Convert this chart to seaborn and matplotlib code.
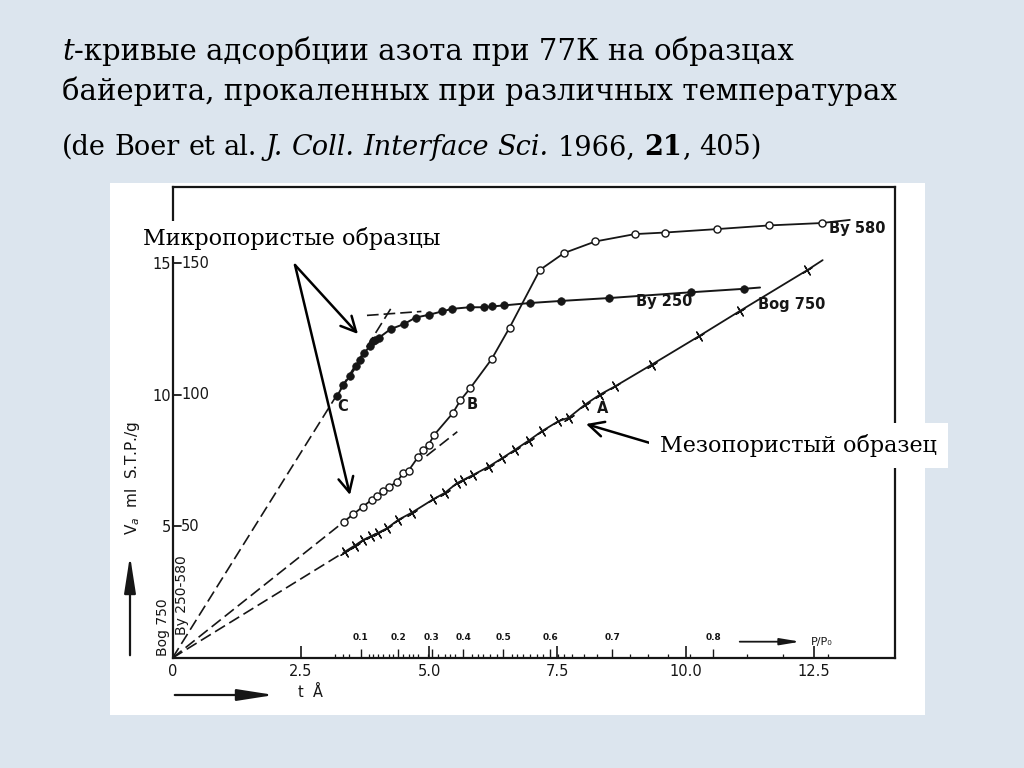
import matplotlib
matplotlib.use("Agg")
from matplotlib import pyplot as plt
from matplotlib.patches import Rectangle
import seaborn as sns

####### DATA #######
# t in Angstrom, Va on the left scale (x10 for the By samples)
by250_t = [3.21, 3.33, 3.45, 3.58, 3.65, 3.73, 3.85, 3.91, 3.95, 4.03, 4.25, 4.51, 4.74,
           4.99, 5.25, 5.45, 5.79, 6.07, 6.23, 6.46, 6.96, 7.57, 8.51, 10.11, 11.13]
by250_v = [9.96, 10.38, 10.70, 11.08, 11.33, 11.59, 11.85, 12.03, 12.10, 12.18, 12.50, 12.69, 12.94,
           13.04, 13.17, 13.27, 13.33, 13.33, 13.36, 13.40, 13.49, 13.57, 13.68, 13.90, 14.03]
by250_end = (11.45, 14.08)

by580_t = [3.34, 3.52, 3.71, 3.88, 3.99, 4.11, 4.22, 4.37, 4.50, 4.60, 4.79, 4.89, 4.99,
           5.10, 5.46, 5.61, 5.80, 6.22, 6.57, 7.16, 7.63, 8.24, 9.01, 9.60, 10.61, 11.63, 12.65]
by580_v = [5.18, 5.46, 5.75, 6.01, 6.17, 6.36, 6.49, 6.70, 7.02, 7.12, 7.65, 7.91, 8.10,
           8.48, 9.30, 9.79, 10.25, 11.36, 12.56, 14.75, 15.39, 15.83, 16.11, 16.17, 16.30, 16.44, 16.53]
by580_end = (13.2, 16.65)

bog750_t = [3.36, 3.55, 3.72, 3.87, 4.01, 4.18, 4.40, 4.66, 5.08, 5.31, 5.54, 5.67, 5.86, 6.16,
            6.42, 6.68, 6.94, 7.20, 7.52, 7.72, 8.04, 8.33, 8.63, 9.34, 10.26, 11.05, 12.37]
bog750_v = [4.04, 4.27, 4.49, 4.63, 4.76, 4.93, 5.25, 5.52, 6.03, 6.28, 6.64, 6.77, 6.96, 7.27,
            7.59, 7.92, 8.26, 8.62, 9.00, 9.13, 9.63, 10.01, 10.33, 11.15, 12.23, 13.18, 14.74]
bog750_end = (12.67, 15.12)

# dashed construction lines: (t0, v0, t1, v1)
dashed_lines = [(0, 0, 4.3, 13.42), (3.79, 13.02, 4.85, 13.17),
                (0, 0, 3.34, 5.18), (4.95, 7.68, 5.55, 8.60),
                (0, 0, 3.36, 4.04)]

t_ticks = [0, 2.5, 5.0, 7.5, 10.0, 12.5]
t_labels = ['0', '2.5', '5.0', '7.5', '10.0', '12.5']
v_ticks = [5, 10, 15]
v_labels_left = ['5', '10', '15']
v_labels_right = ['50', '100', '150']

pp0_major = [3.67, 4.40, 5.05, 5.67, 6.45, 7.36, 8.57, 10.54]
pp0_labels = ['0.1', '0.2', '0.3', '0.4', '0.5', '0.6', '0.7', '0.8']
pp0_minor = [3.17, 3.33, 3.43, 3.82, 3.91, 4.01, 4.11, 4.21, 4.30, 4.50, 4.60, 4.69, 4.79,
             4.98, 5.18, 5.31, 5.41, 5.50, 5.83, 5.96, 6.06, 6.19, 6.32, 6.61, 6.71, 6.84,
             6.97, 7.10, 7.23, 7.52, 7.62, 7.78, 8.01, 8.27, 8.92, 9.27, 9.66, 10.09, 11.19,
             11.90, 12.78]

title_1 = [('t', 'italic', 'normal'), ('-кривые адсорбции азота при 77К на образцах', 'normal', 'normal')]
title_2 = [('байерита, прокаленных при различных температурах', 'normal', 'normal')]
title_3 = [('(de', 'normal', 'normal'), (' ', None, None), ('Boer', 'normal', 'normal'), (' ', None, None),
           ('et', 'normal', 'normal'), (' ', None, None), ('al.', 'normal', 'normal'), (' ', None, None),
           ('J.', 'italic', 'normal'), (' ', None, None), ('Coll.', 'italic', 'normal'), (' ', None, None),
           ('Interface', 'italic', 'normal'), (' ', None, None), ('Sci.', 'italic', 'normal'),
           (' ', None, None), ('1966,', 'normal', 'normal'), (' ', None, None), ('21', 'normal', 'bold'),
           (',', 'normal', 'normal'), (' ', None, None), ('405)', 'normal', 'normal')]
##### END DATA #####

sns.set_theme(style="white")
plt.rcParams['font.family'] = ['DejaVu Sans']

BG = '#dce5ee'
INK = '#161616'
W, H = 1024, 768
serif = ['DejaVu Serif']


def fx(x):
    return x / W


def fy(y):
    return 1 - y / H


fig = plt.figure(figsize=(10.24, 7.68), dpi=100, facecolor=BG)
renderer = fig.canvas.get_renderer()


def draw_runs(x, y, runs, size):
    # place text pieces with different styles one after another
    probe = fig.text(0, 0, 'a a', family=serif, fontsize=size)
    w_sp = probe.get_window_extent(renderer).width
    probe.set_text('aa')
    w_sp -= probe.get_window_extent(renderer).width
    probe.remove()
    px = x
    for txt, style, weight in runs:
        if style is None:
            px += w_sp
            continue
        t = fig.text(fx(px), fy(y), txt, family=serif, fontsize=size, style=style,
                     weight=weight, color='black', va='baseline')
        px += t.get_window_extent(renderer).width


fig.add_artist(Rectangle((fx(110), fy(715)), 815 / W, 532 / H, transform=fig.transFigure,
                         facecolor='white', edgecolor='none', zorder=-1))

ax = fig.add_axes([fx(172.5), fy(658), (895 - 172.5) / W, (658 - 187) / H])
ax.set_facecolor('white')
ax.set_xlim(0, 14.08)
ax.set_ylim(0, 17.9)
for s in ax.spines.values():
    s.set_color(INK)
    s.set_linewidth(1.6)

dash = (0, (7, 3))
for t0, v0, t1, v1 in dashed_lines:
    sns.lineplot(x=[t0, t1], y=[v0, v1], ax=ax, color=INK, lw=1.2, linestyle=dash,
                 sort=False, estimator=None)

sns.lineplot(x=by250_t + [by250_end[0]], y=by250_v + [by250_end[1]], ax=ax, color=INK, lw=1.4,
             sort=False, estimator=None)
sns.lineplot(x=by580_t + [by580_end[0]], y=by580_v + [by580_end[1]], ax=ax, color=INK, lw=1.3,
             sort=False, estimator=None)
sns.lineplot(x=bog750_t + [bog750_end[0]], y=bog750_v + [bog750_end[1]], ax=ax, color=INK, lw=1.3,
             sort=False, estimator=None)

sns.scatterplot(x=by250_t, y=by250_v, ax=ax, marker='o', s=30, color=INK, edgecolor=INK,
                linewidth=0.5, zorder=4)
sns.scatterplot(x=by580_t, y=by580_v, ax=ax, marker='o', s=26, color='white', edgecolor=INK,
                linewidth=1.0, zorder=4)
sns.scatterplot(x=bog750_t, y=bog750_v, ax=ax, marker=(4, 2, 31.6), s=55, color=INK,
                edgecolor=INK, linewidth=1.0, zorder=4)

# curve labels
lab = dict(color=INK, fontsize=10.5, fontweight='bold')
ax.text(3.32, 9.54, 'C', ha='center', va='center', **lab)
ax.text(5.84, 9.62, 'B', ha='center', va='center', **lab)
ax.text(8.39, 9.50, 'A', ha='center', va='center', **lab)
ax.text(12.8, 16.31, 'By 580', ha='left', va='center', **lab)
ax.text(9.03, 13.54, 'By 250', ha='left', va='center', **lab)
ax.text(11.41, 13.42, 'Bog 750', ha='left', va='center', **lab)

# axes ticks
ax.set_xticks(t_ticks)
ax.set_xticklabels(t_labels)
ax.set_yticks(v_ticks)
ax.set_yticklabels(v_labels_left)
ax.tick_params(axis='x', direction='in', length=9, width=1.2, color=INK, pad=4,
               labelsize=10.5, labelcolor=INK, bottom=True)
ax.tick_params(axis='y', direction='out', length=0, pad=1, labelsize=10.5, labelcolor=INK, left=True)
for v, txt in zip(v_ticks, v_labels_right):
    ax.plot([0, 0.17], [v, v], color=INK, lw=1.3, clip_on=False)
    ax.text(0.17, v, txt, ha='left', va='center', fontsize=10.5, color=INK)
ax.grid(False)

# P/Po scale along the t axis
ax.vlines(pp0_major, 0, 0.35, color=INK, lw=1.0)
ax.vlines(pp0_minor, 0, 0.17, color=INK, lw=0.9)
for t, txt in zip(pp0_major, pp0_labels):
    ax.text(t, 0.62, txt, ha='center', va='bottom', fontsize=6.5, color=INK, fontweight='bold')
ax.annotate('', xy=(12.29, 0.62), xytext=(11.0, 0.62),
            arrowprops=dict(arrowstyle='-|>,head_length=1.2,head_width=0.2', color=INK, lw=1.3,
                            mutation_scale=10))
ax.text(12.45, 0.62, 'P/P₀', ha='left', va='center', fontsize=8, color=INK)

# axis titles of the scan
ax.text(-0.18, 1.18, 'Bog 750', rotation=90, ha='center', va='center', fontsize=10, color=INK,
        clip_on=False)
ax.text(0.19, 2.40, 'By 250-580', rotation=90, ha='center', va='center', fontsize=10, color=INK)
fig.text(fx(132), fy(478), 'V$_a$  ml  S.T.P./g', rotation=90, ha='center', va='center',
         fontsize=11, color=INK)
fig.text(fx(310), fy(692), 't  Å', ha='center', va='center', fontsize=10.5, color=INK)
ax.annotate('', xy=(130, H - 553), xytext=(130, H - 658), xycoords='figure pixels',
            textcoords='figure pixels',
            arrowprops=dict(arrowstyle='-|>,head_length=1.6,head_width=0.25', color=INK, lw=1.6,
                            mutation_scale=14))
ax.annotate('', xy=(277, H - 695), xytext=(172, H - 695), xycoords='figure pixels',
            textcoords='figure pixels',
            arrowprops=dict(arrowstyle='-|>,head_length=1.6,head_width=0.25', color=INK, lw=1.6,
                            mutation_scale=14))

# slide annotations
fig.text(fx(143), fy(245), 'Микропористые образцы', family=serif, fontsize=16, color='black',
         va='baseline', ha='left',
         bbox=dict(facecolor='white', edgecolor='none', pad=4))
fig.text(fx(660), fy(452), 'Мезопористый образец', family=serif, fontsize=16, color='black',
         va='baseline', ha='left',
         bbox=dict(facecolor='white', edgecolor='none', pad=8))
arrow_kw = dict(arrowstyle='->,head_length=0.6,head_width=0.3', color='black', lw=1.8,
                mutation_scale=18, shrinkA=0, shrinkB=0)
ax.annotate('', xy=(358, H - 334), xytext=(295, H - 265), xycoords='figure pixels',
            textcoords='figure pixels', arrowprops=arrow_kw)
ax.annotate('', xy=(350, H - 495), xytext=(295, H - 265), xycoords='figure pixels',
            textcoords='figure pixels', arrowprops=arrow_kw)
ax.annotate('', xy=(586, H - 424), xytext=(650, H - 443), xycoords='figure pixels',
            textcoords='figure pixels', arrowprops=arrow_kw)

# slide title
draw_runs(62, 60, title_1, 21)
draw_runs(62, 100, title_2, 21)
draw_runs(62, 155, title_3, 19.5)

fig.savefig('out.png', dpi=100, facecolor=BG)
